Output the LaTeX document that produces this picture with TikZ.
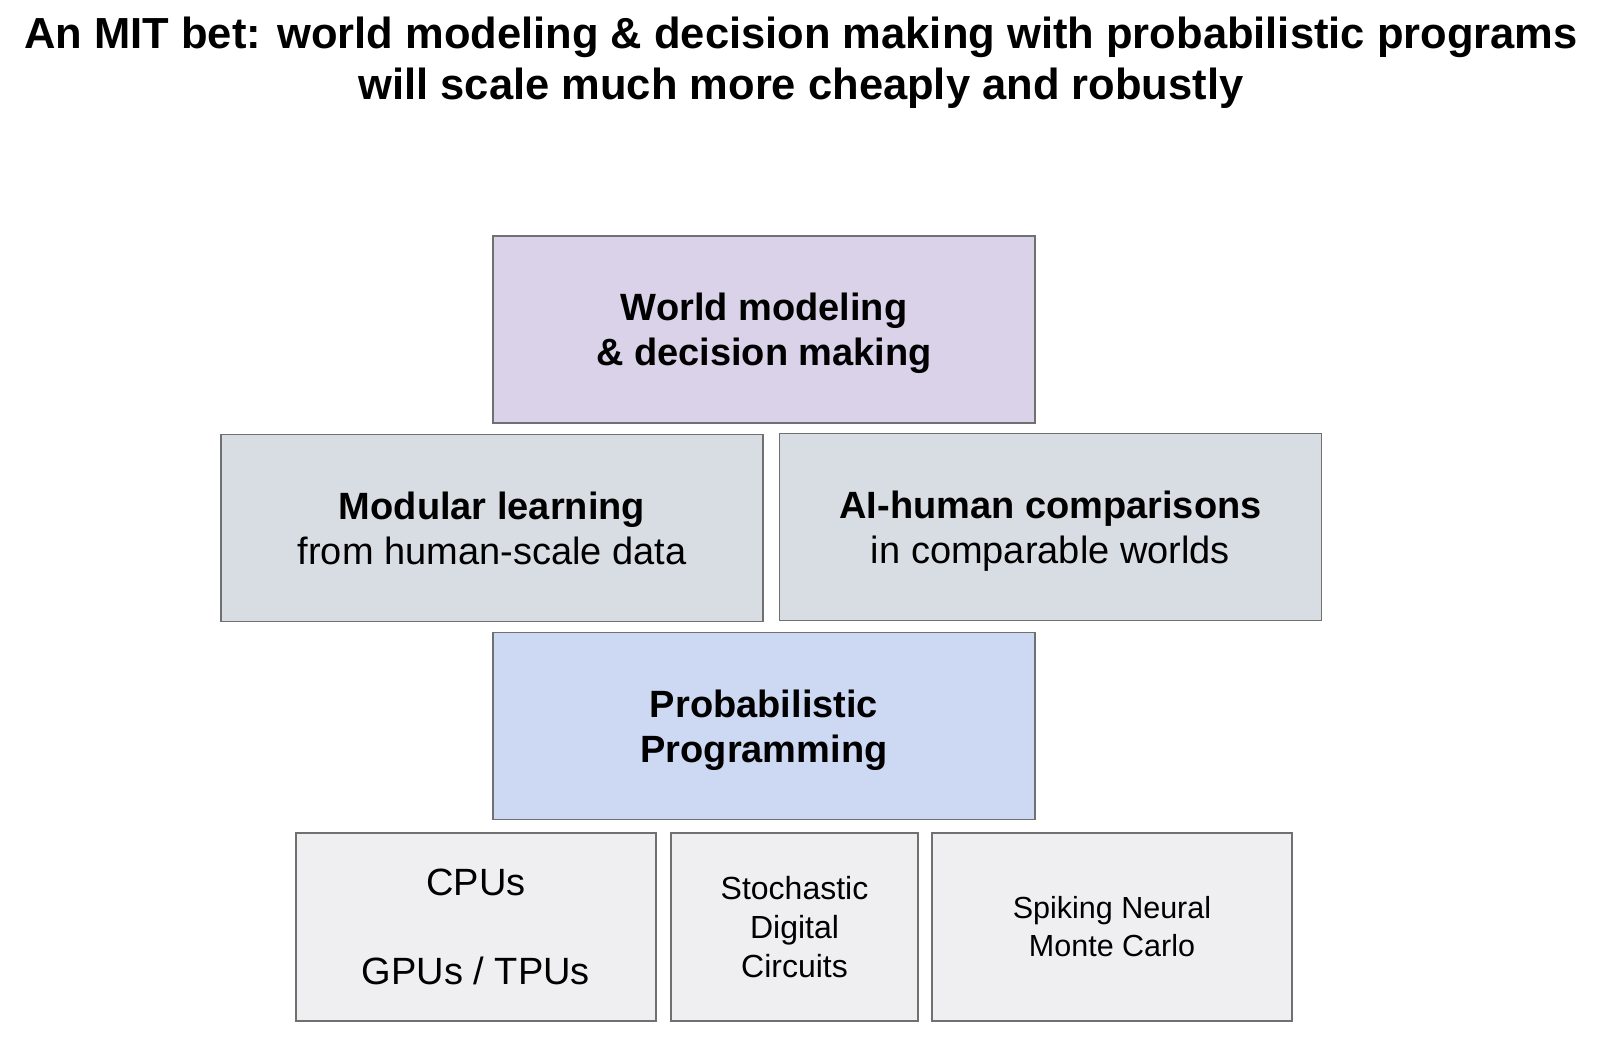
\documentclass[tikz,border=0pt]{standalone}
\usepackage{fontspec}
\setmainfont{Liberation Sans}
\definecolor{boxline}{HTML}{707070}
\definecolor{worldfill}{HTML}{D9D2E9}
\definecolor{midfill}{HTML}{D8DDE3}
\definecolor{probfill}{HTML}{CDD8F3}
\definecolor{hwfill}{HTML}{EFEFF1}
\begin{document}
\begin{tikzpicture}[x=1pt,y=-1pt]
\tikzstyle{box} = [rectangle, draw=boxline, line width=1.8pt, text centered, align=center, inner sep=0pt, font=\fontsize{38}{45}\selectfont]
\tikzstyle{wide} = [minimum width=542pt, minimum height=187pt]
\tikzstyle{hw} = [box, fill=hwfill, minimum height=188pt]
\useasboundingbox (0,0) rectangle (1611,1048);
\node (title) at (801,63) [align=center, font=\fontsize{43.5}{51}\selectfont\bfseries] {An MIT bet: world modeling \& decision making with probabilistic programs\\will scale much more cheaply and robustly};
\node (world) at (764,329.5) [box, wide, fill=worldfill, font=\fontsize{38}{45}\selectfont\bfseries] {World modeling\\\smash{\& decision making}};
\node (modular) at (492,528) [box, wide, fill=midfill] {\textbf{Modular learning}\\from human-scale data};
\node (aihuman) at (1050.5,527) [box, wide, fill=midfill] {\textbf{AI-human comparisons}\\\smash{in comparable worlds}};
\node (probprog) at (764,726) [box, wide, fill=probfill, font=\fontsize{38}{45}\selectfont\bfseries] {Probabilistic\\\smash{Programming}};
\node (cpus) at (476,927) [hw, minimum width=360pt] {CPUs\\[44.5pt]GPUs / TPUs};
\node (stoch) at (794.5,927) [hw, minimum width=247pt, font=\fontsize{32}{39}\selectfont] {Stochastic\\Digital\\Circuits};
\node (spiking) at (1112,927) [hw, minimum width=360pt, font=\fontsize{30.5}{38}\selectfont] {Spiking Neural\\Monte Carlo};
\end{tikzpicture}
\end{document}
